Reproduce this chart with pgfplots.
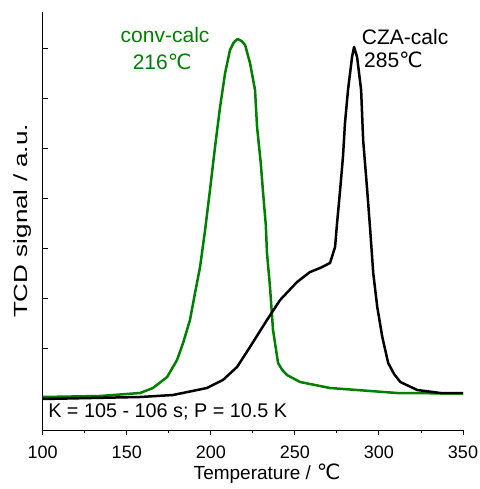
\documentclass[border=0pt]{standalone}
\usepackage{fontspec}
\setmainfont{Liberation Sans}
\newfontfamily\ylfont{Liberation Sans}[FakeStretch=1.37]
\newfontfamily\dv{DejaVu Sans}
\usepackage{pgfplots}
\pgfplotsset{compat=1.18}
\definecolor{cgreen}{RGB}{0,128,0}
\newcommand{\degC}{{\dv ℃}}
\begin{document}
\begin{tikzpicture}
\path[use as bounding box] (-42.7pt,-59pt) rectangle (436.3pt,430pt);
\begin{axis}[
  at={(0pt,0pt)}, anchor=south west,
  scale only axis, width=420.3pt, height=418pt,
  xmin=100, xmax=350, ymin=0, ymax=418,
  axis lines*=left,
  axis line style={line width=1pt},
  xtick={100,150,...,350},
  minor xtick={125,175,...,325},
  ytick={32,82,...,382},
  yticklabels={},
  xtick align=outside,
  ytick align=inside,
  major tick length=5pt,
  minor tick length=3pt,
  every tick/.style={line width=0.9pt, black},
  /pgf/number format/assume math mode=true,
  xticklabel style={font=\fontsize{18}{21}\selectfont, yshift=-7.2pt},
  xlabel={Temperature /\hspace{6pt}{\fontsize{21}{22}\selectfont\degC}},
  ylabel={\ylfont TCD signal / a.u.},
  xlabel style={font=\fontsize{19}{22}\selectfont, at={(axis description cs:0.534,-0.1196)}, anchor=base},
  ylabel style={font=\fontsize{19}{22}\selectfont, at={(axis description cs:-0.0488,0.5)}, anchor=center},
  clip=false,
]
\addplot[cgreen, line width=2.5pt, line join=round] coordinates {
(100,33) (134.1,34) (157.9,37) (165.6,42) (174.0,53) (179.9,70) (183.5,87)
(187.6,110) (190.6,137) (193.6,163) (196.6,200) (199.5,240) (202.5,283)
(205.5,323) (208.5,357) (211.4,380) (213.8,388) (216.0,391) (218.3,389)
(220.4,385) (223.3,367) (226.3,340) (227.5,303) (229.7,267) (231.1,237)
(232.7,205) (233.4,177) (235.2,143) (237.0,100) (240.0,67) (242.5,60)
(245.3,55) (253.1,48) (270.9,42) (310.8,37) (350,36.5)
};
\addplot[black, line width=2.5pt, line join=round] coordinates {
(100,31) (157.9,33) (177.5,35) (197.7,42) (207.2,50) (215.6,63) (223.3,83)
(233.4,110) (241.2,130) (251.3,148) (259.0,158) (265.0,162) (270.9,167)
(273.9,183) (275.1,207) (276.9,240) (278.6,273) (279.8,307) (281.6,340)
(284.0,373) (285.2,383) (287.0,373) (289.4,340) (290.6,290) (293.0,240)
(294.8,200) (296.6,157) (299.0,123) (302.0,93) (305.5,67) (309,56) (312.7,48)
(322.8,40) (336.5,37) (350,37)
};
\node[font=\fontsize{21}{25}\selectfont, text=cgreen, anchor=base]
  at (axis cs:172.8,387.5) {conv-calc};
\node[font=\fontsize{21}{25}\selectfont, text=cgreen, anchor=base]
  at (axis cs:171.0,360) {216\degC};
\node[font=\fontsize{21}{25}\selectfont, anchor=base west, inner sep=0pt]
  at (axis cs:289.8,385) {CZA-calc};
\node[font=\fontsize{21}{25}\selectfont, anchor=base west, inner sep=0pt]
  at (axis cs:291.1,362) {285\degC};
\node[font=\fontsize{19.8}{23}\selectfont, anchor=base west, inner sep=0pt]
  at (axis cs:103.2,12.3) {K = 105 - 106 s; P = 10.5 K};
\end{axis}
\end{tikzpicture}
\end{document}
